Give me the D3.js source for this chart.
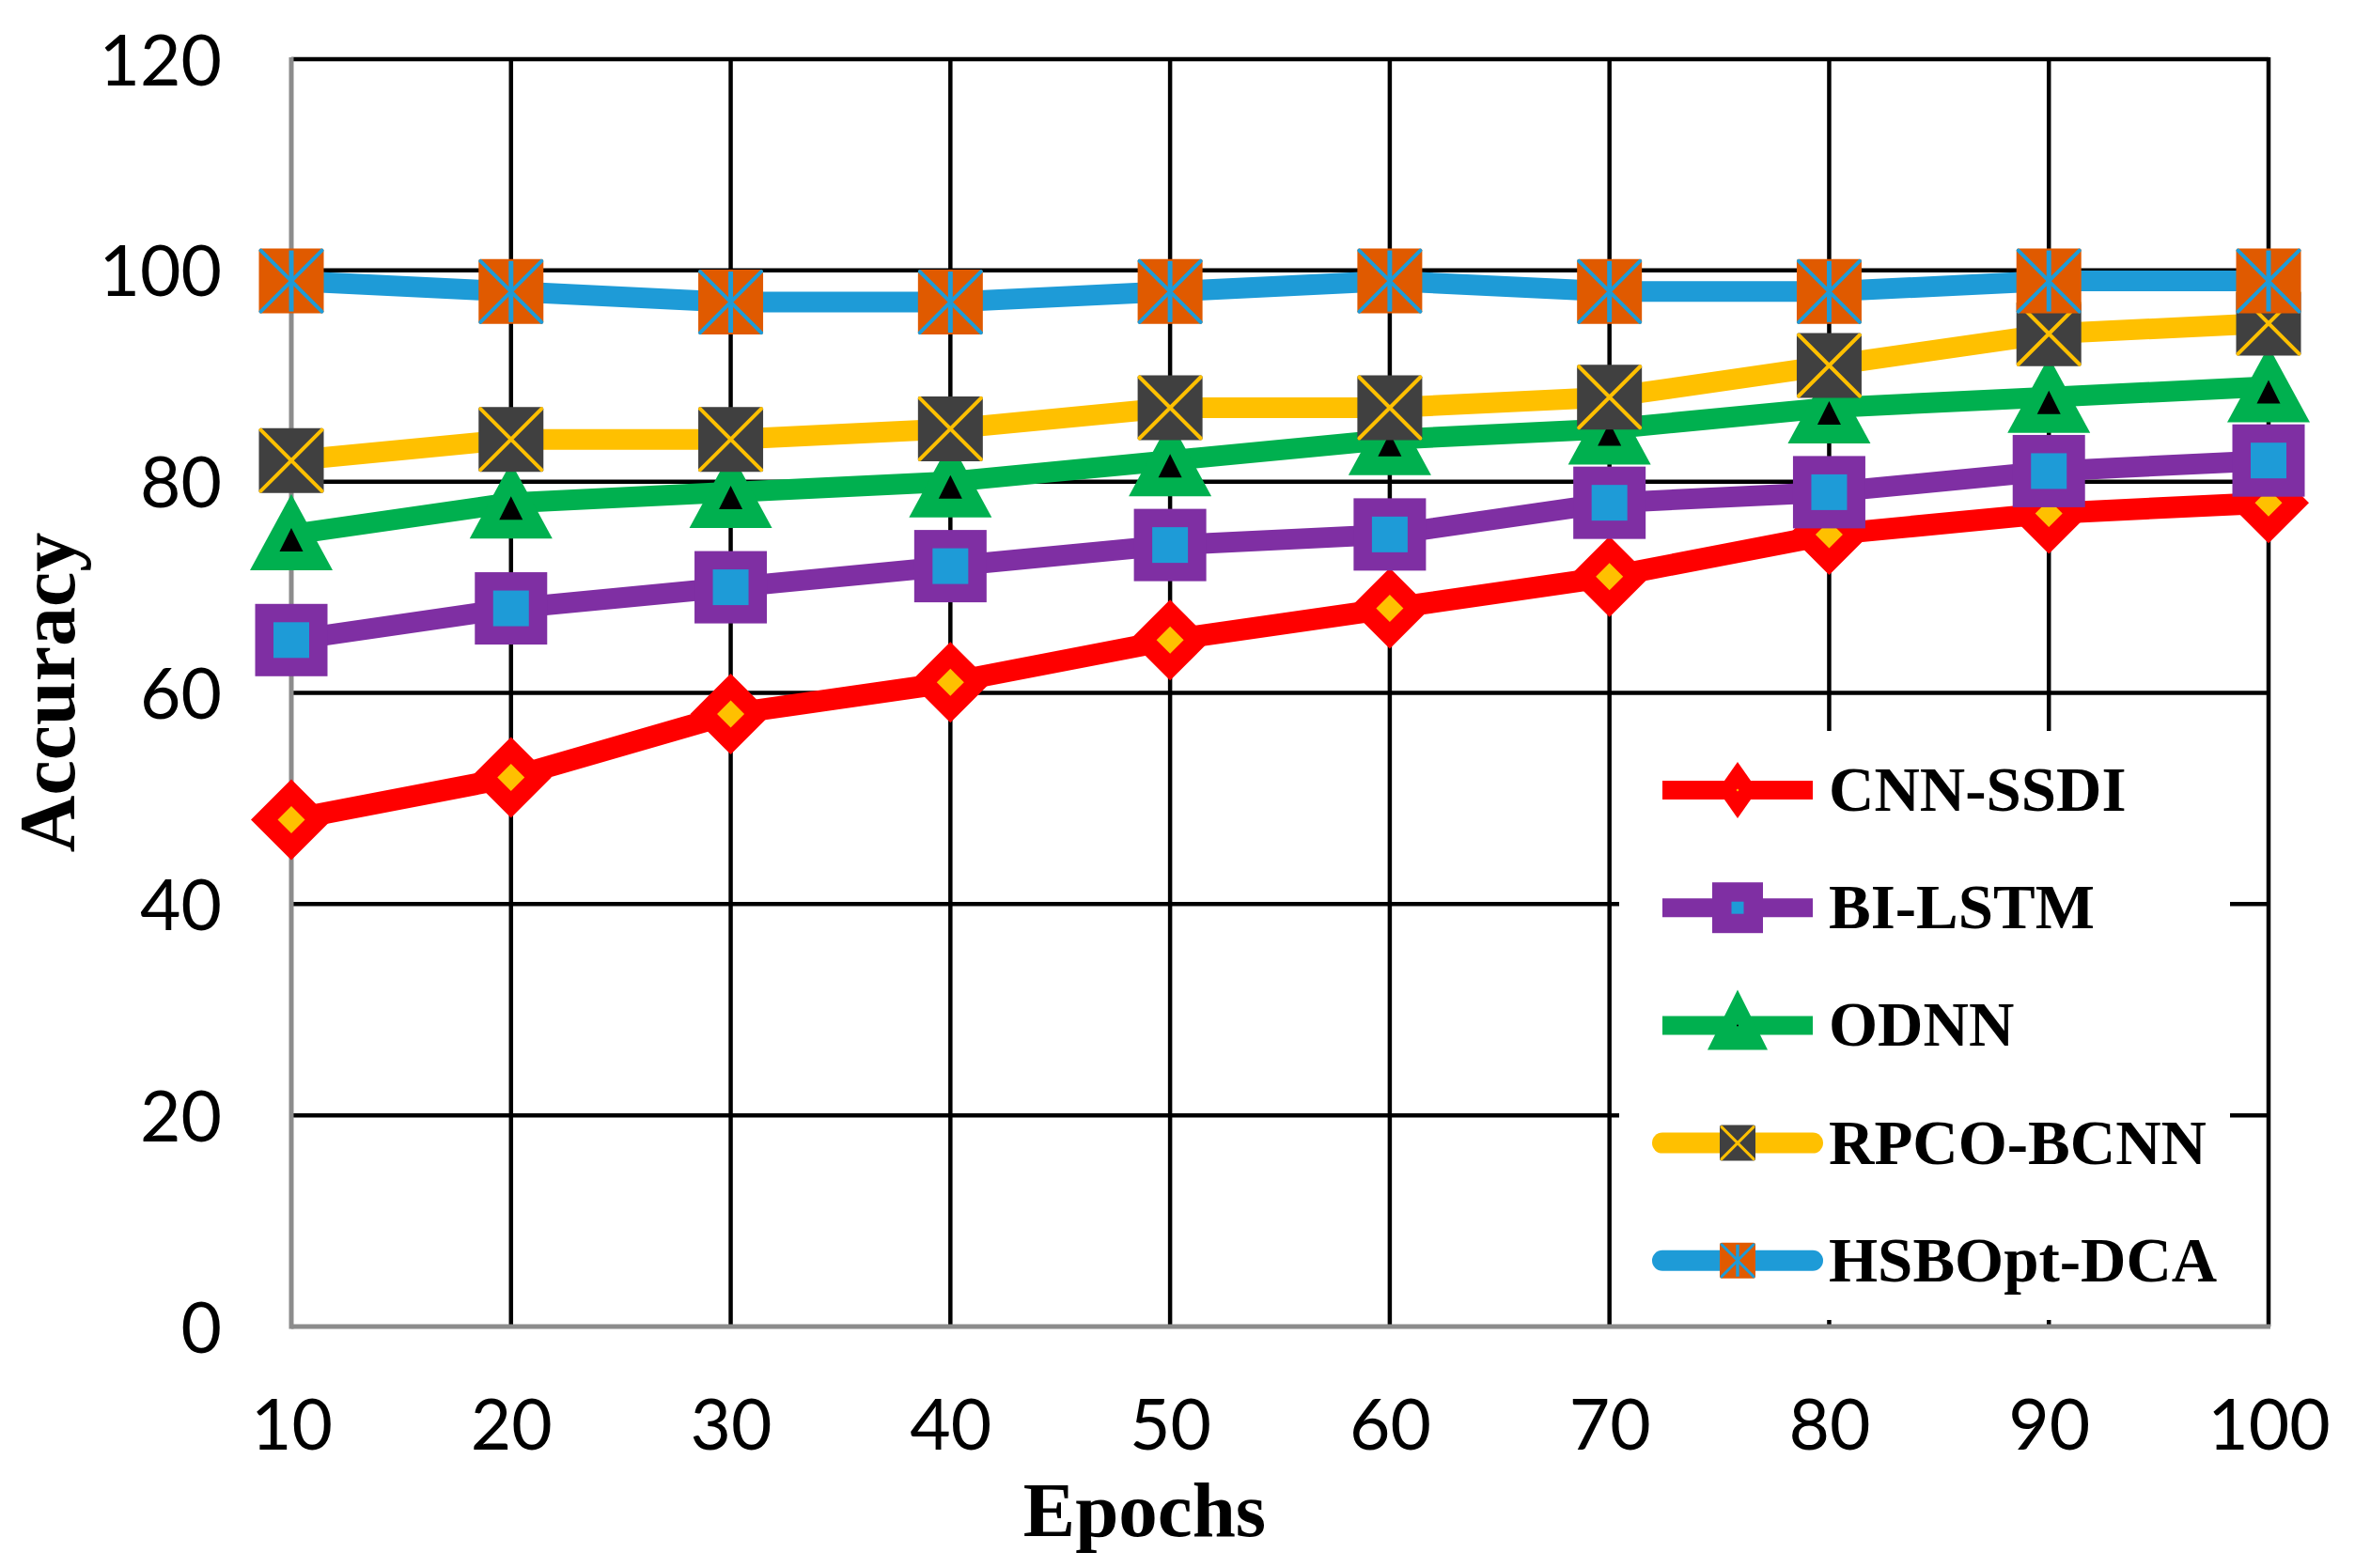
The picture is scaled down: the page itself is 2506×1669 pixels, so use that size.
<!DOCTYPE html>
<html>
<head>
<meta charset="utf-8">
<script src="https://cdn.jsdelivr.net/npm/d3@7"></script>
<style>
  html, body { margin: 0; padding: 0; background: #fff; }
  svg { display: block; }
</style>
</head>
<body>
<svg id="chart"></svg>
<script>

// data
const epochs = [10, 20, 30, 40, 50, 60, 70, 80, 90, 100]
const yTicks = [0, 20, 40, 60, 80, 100, 120]

const cnnSsdi   = [48, 52, 58, 61, 65, 68, 71, 75, 77, 78]
const biLstm    = [65, 68, 70, 72, 74, 75, 78, 79, 81, 82]
const odnn      = [75, 78, 79, 80, 82, 84, 85, 87, 88, 89]
const rpcoBcnn  = [82, 84, 84, 85, 87, 87, 88, 91, 94, 95]
const hsbOptDca = [99, 98, 97, 97, 98, 99, 98, 98, 99, 99]

const seriesNames = ['CNN-SSDI', 'BI-LSTM', 'ODNN', 'RPCO-BCNN', 'HSBOpt-DCA']

const W = 2506, H = 1669
const plotLeft = 310, plotRight = 2414, plotTop = 63, plotBottom = 1412

const BLUE = '#1E9BD7', ORANGE = '#E05A00', YELLOW = '#FFC000', DARK = '#404040',
      GREEN = '#00B04F', PURPLE = '#7F2FA3', RED = '#FF0000', GREY = '#8C8C8C'

const series = [
  { name: seriesNames[0], values: cnnSsdi,   colour: RED,    marker: 'diamond' },
  { name: seriesNames[1], values: biLstm,    colour: PURPLE, marker: 'square' },
  { name: seriesNames[2], values: odnn,      colour: GREEN,  marker: 'triangle' },
  { name: seriesNames[3], values: rpcoBcnn,  colour: YELLOW, marker: 'xbox' },
  { name: seriesNames[4], values: hsbOptDca, colour: BLUE,   marker: 'starbox' }
]

const svg = d3.select('#chart').attr('width', W).attr('height', H)

svg.append('rect').attr('width', W).attr('height', H).attr('fill', '#fff')

const x = d3.scalePoint().domain(epochs).range([plotLeft, plotRight])
const y = d3.scaleLinear().domain([0, 120]).range([plotBottom, plotTop])

// gridlines
const grid = svg.append('g')

grid.selectAll('.hgrid')
    .data(yTicks.filter(d => d > 0))
    .enter().append('line')
    .attr('x1', plotLeft).attr('x2', plotRight)
    .attr('y1', d => y(d)).attr('y2', d => y(d))
    .attr('stroke', '#000').attr('stroke-width', 4.5)

grid.selectAll('.vgrid')
    .data(epochs.slice(1))
    .enter().append('line')
    .attr('x1', d => x(d)).attr('x2', d => x(d))
    .attr('y1', plotTop - 2).attr('y2', plotBottom)
    .attr('stroke', '#000').attr('stroke-width', 4.5)

// axis lines (grey)
svg.append('line')
    .attr('x1', plotLeft).attr('x2', plotLeft).attr('y1', plotTop - 2).attr('y2', plotBottom + 2.5)
    .attr('stroke', GREY).attr('stroke-width', 5)

svg.append('line')
    .attr('x1', plotLeft).attr('x2', plotRight + 2).attr('y1', plotBottom).attr('y2', plotBottom)
    .attr('stroke', GREY).attr('stroke-width', 5)

// tick labels
const yAxis = svg.append('g')
    .attr('transform', `translate(${plotLeft},0)`)
    .call(d3.axisLeft(y).tickValues(yTicks).tickSize(0).tickPadding(74))

const xAxis = svg.append('g')
    .attr('transform', `translate(0,${plotBottom})`)
    .call(d3.axisBottom(x).tickSize(0).tickPadding(78))

for (const ax of [yAxis, xAxis]) {
    ax.select('.domain').remove()
    ax.selectAll('text')
        .attr('font-family', 'Lato, "Open Sans", sans-serif')
        .attr('font-size', 75)
        .attr('fill', '#000')
}
yAxis.selectAll('text').attr('dy', '0.36em')

// axis titles
svg.append('text')
    .attr('x', 1218).attr('y', 1635)
    .attr('text-anchor', 'middle')
    .attr('font-family', '"Liberation Serif", "Times New Roman", serif')
    .attr('font-weight', 'bold')
    .attr('font-size', 83)
    .text('Epochs')

svg.append('text')
    .attr('transform', 'translate(79,737) rotate(-90)')
    .attr('text-anchor', 'middle')
    .attr('font-family', '"Liberation Serif", "Times New Roman", serif')
    .attr('font-weight', 'bold')
    .attr('font-size', 84)
    .text('Accuracy')

// markers
function drawMarker(g, type, cx, cy, big) {

    if (type === 'diamond') {
        const hw = big ? 43 : 21, hh = big ? 43 : 30, ih = big ? 14.5 : 1.5
        g.append('path')
            .attr('d', `M${cx},${cy - hh}L${cx + hw},${cy}L${cx},${cy + hh}L${cx - hw},${cy}Z`)
            .attr('fill', RED)
        g.append('path')
            .attr('d', `M${cx},${cy - ih}L${cx + ih},${cy}L${cx},${cy + ih}L${cx - ih},${cy}Z`)
            .attr('fill', YELLOW)
    }

    if (type === 'square') {
        const s = big ? 77 : 54, i = big ? 38 : 13
        g.append('rect').attr('x', cx - s / 2).attr('y', cy - s / 2)
            .attr('width', s).attr('height', s).attr('fill', PURPLE)
        g.append('rect').attr('x', cx - i / 2).attr('y', cy - i / 2)
            .attr('width', i).attr('height', i).attr('fill', BLUE)
    }

    if (type === 'triangle') {
        const hw = big ? 44 : 32, up = big ? 43 : 38, dn = big ? 38 : 26
        g.append('path')
            .attr('d', `M${cx},${cy - up}L${cx + hw},${cy + dn}L${cx - hw},${cy + dn}Z`)
            .attr('fill', GREEN)
        if (big) {
            g.append('path')
                .attr('d', `M${cx},${cy - 7}L${cx + 12.5},${cy + 18}L${cx - 12.5},${cy + 18}Z`)
                .attr('fill', '#000')
        } else {
            g.append('circle').attr('cx', cx).attr('cy', cy).attr('r', 1).attr('fill', '#000')
        }
    }

    if (type === 'xbox' || type === 'starbox') {
        const s = big ? 69 : 38, h = s / 2
        const fill = type === 'xbox' ? DARK : ORANGE
        const cross = type === 'xbox' ? YELLOW : BLUE
        const sw = big ? 4 : 3
        g.append('rect').attr('x', cx - h).attr('y', cy - h)
            .attr('width', s).attr('height', s).attr('rx', 2)
            .attr('fill', fill)
        const p = h - 2
        g.append('path')
            .attr('d', `M${cx - p},${cy - p}L${cx + p},${cy + p}M${cx + p},${cy - p}L${cx - p},${cy + p}`)
            .attr('stroke', cross).attr('stroke-width', sw).attr('stroke-linecap', 'round')
        if (type === 'starbox') {
            g.append('line')
                .attr('x1', cx).attr('x2', cx).attr('y1', cy - p).attr('y2', cy + p)
                .attr('stroke', cross).attr('stroke-width', big ? 5 : 3.5)
        }
    }
}

const line = d3.line()
    .x((d, i) => x(epochs[i]))
    .y(d => y(d))

for (const s of series) {

    const g = svg.append('g').attr('class', 'series')

    g.append('path')
        .attr('d', line(s.values))
        .attr('fill', 'none')
        .attr('stroke', s.colour)
        .attr('stroke-width', s.marker === 'diamond' ? 23 : 22)
        .attr('stroke-linejoin', 'round')

    s.values.forEach((v, i) => drawMarker(g, s.marker, x(epochs[i]), y(v), true))

}

// legend
const legend = svg.append('g')

legend.append('rect')
    .attr('x', 1723).attr('y', 778)
    .attr('width', 2373 - 1723).attr('height', 1405 - 778)
    .attr('fill', '#fff')

series.forEach((s, i) => {

    const cy = 841 + i * 125.2
    const rounded = s.marker === 'xbox' || s.marker === 'starbox'

    legend.append('line')
        .attr('x1', 1769).attr('x2', 1929)
        .attr('y1', cy).attr('y2', cy)
        .attr('stroke', s.colour)
        .attr('stroke-width', rounded ? 22 : 20)
        .attr('stroke-linecap', rounded ? 'round' : 'butt')

    drawMarker(legend, s.marker, 1849, cy, false)

    legend.append('text')
        .attr('x', 1946).attr('y', cy + 22)
        .attr('font-family', '"Liberation Serif", "Times New Roman", serif')
        .attr('font-weight', 'bold')
        .attr('font-size', 67)
        .attr('fill', '#000')
        .text(s.name)
})

</script>
</body>
</html>
